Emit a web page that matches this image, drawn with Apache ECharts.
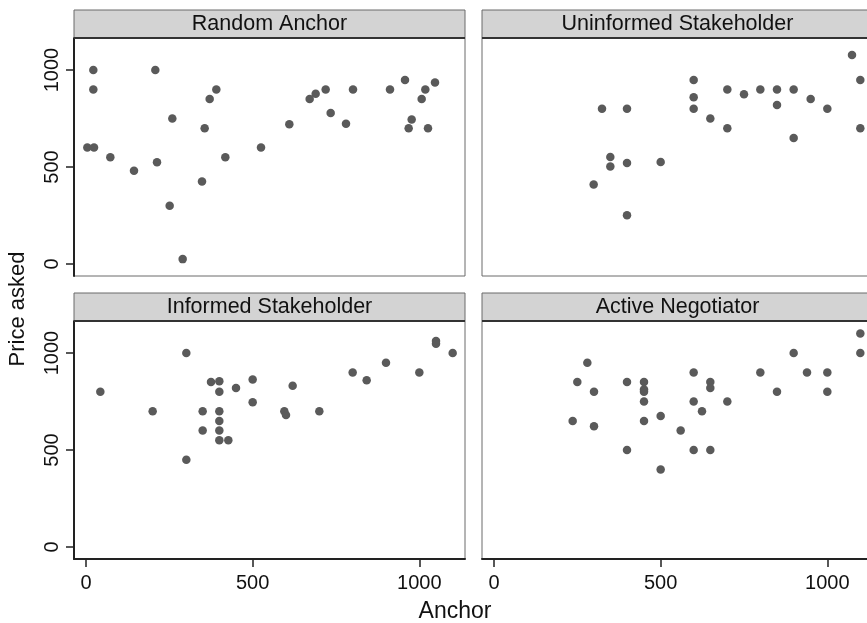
<!DOCTYPE html>
<html>
<head>
<meta charset="utf-8">
<script src="https://cdn.jsdelivr.net/npm/echarts@6/dist/echarts.min.js"></script>
<style>
html,body{margin:0;padding:0;background:#fff;}
#chart{width:867px;height:623px;}
</style>
</head>
<body>
<div id="chart"></div>
<script>
// ---- data ----
const panelTitles = ["Random Anchor", "Uninformed Stakeholder", "Informed Stakeholder", "Active Negotiator"];
const xTicks = [0, 500, 1000];
const yTicks = [0, 500, 1000];

const randomAnchor = [
  [4,600],[24,600],[22,1000],[22,900],[73,550],[144,480],[208,1000],[213,525],
  [251,300],[259,750],[290,25],[348,425],[356,700],[371,850],[391,900],[418,550],
  [525,600],[610,720],[671,850],[689,878],[719,900],[734,778],[780,723],[801,900],
  [912,900],[957,948],[968,700],[977,745],[1007,850],[1018,900],[1026,700],[1047,935]
];
const uninformedStakeholder = [
  [324,800],[399,800],[349,552],[349,502],[399,521],[500,526],[299,410],[399,251],
  [599,948],[599,859],[599,800],[649,750],[700,900],[700,700],[750,875],[799,900],
  [849,900],[849,820],[899,900],[899,650],[950,850],[1000,800],[1074,1077],[1099,948],[1099,700]
];
const informedStakeholder = [
  [43,800],[200,700],[301,1000],[301,450],[350,700],[350,600],[375,850],[400,855],
  [400,800],[400,700],[400,650],[400,600],[400,550],[427,550],[450,820],[500,864],
  [500,746],[595,700],[600,680],[620,831],[700,700],[800,900],[842,860],[900,950],
  [1000,900],[1050,1062],[1050,1048],[1100,1000]
];
const activeNegotiator = [
  [236,650],[250,850],[280,950],[300,800],[300,623],[399,850],[399,500],[450,850],
  [450,812],[450,800],[450,750],[450,650],[500,675],[500,400],[560,600],[599,900],
  [599,750],[599,500],[624,700],[649,850],[649,820],[649,500],[700,750],[799,900],
  [849,800],[899,1000],[939,900],[1000,900],[1000,800],[1099,1100],[1099,1000]
];
const panelData = [randomAnchor, uninformedStakeholder, informedStakeholder, activeNegotiator];

// ---- layout ----
const X_MIN = -36, X_MAX = 1137, Y_MIN = -62, Y_MAX = 1165;
const lefts = [74, 482];
const tops = [38, 321];
const W = 391, H = 238, STRIP = 28;
const FONT = "Liberation Sans, Arial, sans-serif";
const MARK = '#5a5a5a';
const BORDER = '#6a6a6a';

const grids = [], xAxes = [], yAxes = [], series = [], graphics = [];
for (let i = 0; i < 4; i++) {
  const col = i % 2, row = Math.floor(i / 2);
  const L = lefts[col], T = tops[row];
  grids.push({left: L, top: T, width: W, height: H, show: true, borderColor: BORDER, borderWidth: 1,
              backgroundColor: '#fff', outerBoundsMode: 'none', containLabel: false});
  const showX = row === 1, showY = col === 0;
  xAxes.push({
    type: 'value', gridIndex: i, min: X_MIN, max: X_MAX,
    splitLine: {show: false},
    axisLine: {show: showX, onZero: false, lineStyle: {color: '#222', width: 2}},
    axisTick: {show: showX, length: 8, lineStyle: {color: '#222', width: 1.5}, customValues: xTicks},
    axisLabel: {show: showX, customValues: xTicks, margin: 14, color: '#111', fontSize: 20, fontFamily: FONT,
                formatter: v => String(v)}
  });
  yAxes.push({
    type: 'value', gridIndex: i, min: Y_MIN, max: Y_MAX,
    splitLine: {show: false},
    axisLine: {show: showY, onZero: false, lineStyle: {color: '#222', width: 2}},
    axisTick: {show: showY, length: 8, lineStyle: {color: '#222', width: 1.5}, customValues: yTicks},
    axisLabel: {show: showY, customValues: yTicks, rotate: 90, margin: 12, color: '#111', fontSize: 20, fontFamily: FONT,
                formatter: v => String(v)}
  });
  series.push({
    type: 'scatter', xAxisIndex: i, yAxisIndex: i, data: panelData[i],
    symbolSize: 8.5, itemStyle: {color: MARK, opacity: 1}, silent: true
  });
  graphics.push({
    type: 'rect', shape: {x: L, y: T - STRIP, width: W, height: STRIP},
    style: {fill: '#d3d3d3', stroke: BORDER, lineWidth: 1}, z: 10
  });
  graphics.push({
    type: 'line', shape: {x1: L, y1: T, x2: L + W, y2: T},
    style: {stroke: '#333', lineWidth: 2}, z: 11
  });
  graphics.push({
    type: 'text', x: L + W / 2, y: T - STRIP / 2 + 0.5,
    style: {text: panelTitles[i], fill: '#111', font: '21.5px ' + FONT, textAlign: 'center', textVerticalAlign: 'middle'}, z: 12
  });
}
graphics.push({
  type: 'text', x: 18, y: 309, rotation: Math.PI / 2,
  style: {text: 'Price asked', fill: '#111', font: '22px ' + FONT, textAlign: 'center', textVerticalAlign: 'middle'}
});
graphics.push({
  type: 'text', x: 455, y: 612,
  style: {text: 'Anchor', fill: '#111', font: '23px ' + FONT, textAlign: 'center', textVerticalAlign: 'middle'}
});

const chart = echarts.init(document.getElementById('chart'), null, {renderer: 'canvas'});
chart.setOption({
  animation: false,
  backgroundColor: '#fff',
  grid: grids, xAxis: xAxes, yAxis: yAxes, series: series, graphic: graphics
});
</script>
</body>
</html>
